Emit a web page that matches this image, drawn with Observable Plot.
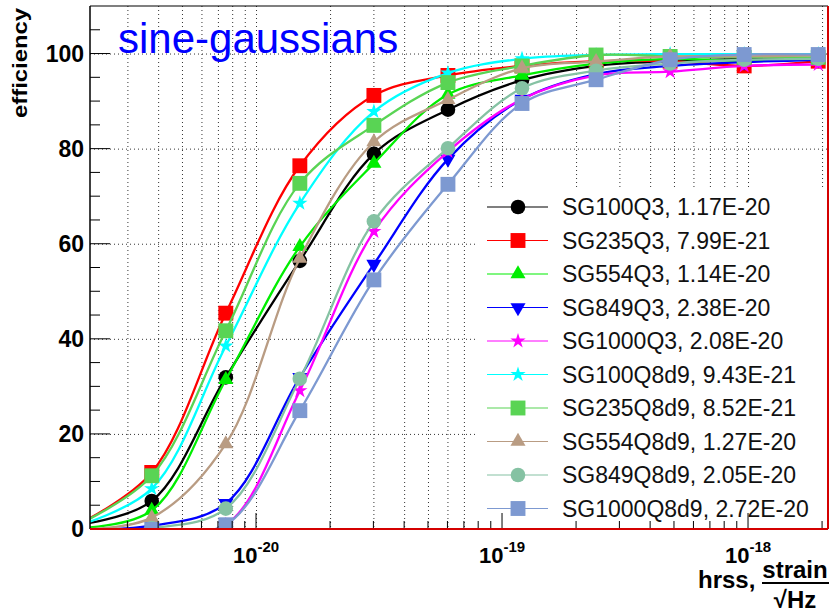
<!DOCTYPE html>
<html><head><meta charset="utf-8">
<script src="https://cdn.jsdelivr.net/npm/d3@7"></script>
<script src="https://cdn.jsdelivr.net/npm/@observablehq/plot@0.6"></script>
<style>
body{margin:0;background:#fff;}
svg{display:block;}
</style>
</head><body><div id="chart"></div>
<script>
// ---- data ----
const hrss = [1.875e-21, 3.75e-21, 7.5e-21, 1.5e-20, 3e-20, 6e-20, 1.2e-19, 2.4e-19, 4.8e-19, 9.6e-19, 1.92e-18];
const seriesNames = ["SG100Q3", "SG235Q3", "SG554Q3", "SG849Q3", "SG1000Q3",
  "SG100Q8d9", "SG235Q8d9", "SG554Q8d9", "SG849Q8d9", "SG1000Q8d9"];
const hrss50 = ["1.17E-20", "7.99E-21", "1.14E-20", "2.38E-20", "2.08E-20",
  "9.43E-21", "8.52E-21", "1.27E-20", "2.05E-20", "2.72E-20"];
const sg100q3    = [1.0, 6.0, 32.0, 56.5, 79.0, 88.3, 94.5, 97.5, 98.5, 99.0, 99.0];
const sg235q3    = [1.0, 12.0, 45.5, 76.5, 91.3, 95.5, 97.5, 98.5, 98.5, 97.5, 98.5];
const sg554q3    = [0.3, 4.0, 31.5, 59.5, 77.0, 91.5, 95.5, 98.0, 99.0, 98.5, 99.0];
const sg849q3    = [0.0, 0.8, 5.5, 32.0, 55.8, 77.9, 90.5, 95.8, 97.5, 98.3, 98.8];
const sg1000q3   = [0.0, 0.0, 1.0, 29.2, 62.7, 79.5, 90.5, 95.5, 96.3, 97.5, 97.8];
const sg100q8d9  = [0.8, 8.6, 38.6, 68.6, 87.9, 96.0, 99.0, 99.8, 100.0, 100.0, 100.0];
const sg235q8d9  = [1.0, 11.3, 41.8, 72.8, 85.0, 94.0, 97.5, 99.8, 99.5, 99.3, 99.3];
const sg554q8d9  = [0.0, 2.5, 18.0, 57.0, 81.5, 90.4, 97.0, 98.4, 99.5, 99.5, 99.7];
const sg849q8d9  = [0.0, 0.3, 4.4, 31.7, 64.8, 80.2, 92.8, 96.5, 98.0, 98.8, 99.0];
const sg1000q8d9 = [0.0, 0.0, 1.0, 25.0, 52.5, 72.6, 89.6, 94.6, 98.8, 99.9, 99.9];
const seriesValues = [sg100q3, sg235q3, sg554q3, sg849q3, sg1000q3,
  sg100q8d9, sg235q8d9, sg554q8d9, sg849q8d9, sg1000q8d9];
const colors = ["#000000", "#ff0000", "#00ee00", "#0000ff", "#ff00ff",
  "#00ffff", "#59d454", "#b99c83", "#85c2a3", "#7d99d1"];

const yTicks = [0, 20, 40, 60, 80, 100];
const yTickLabels = ["0", "20", "40", "60", "80", "100"];
const xDecades = [1e-20, 1e-19, 1e-18];
const xDecadeExponents = ["-20", "-19", "-18"];
const xDomain = [2.114e-21, 2.114e-18];
const yDomain = [0, 110];

const FONT = "'Liberation Sans', Arial, Helvetica, sans-serif";

// ---- symbols ----
const triangleDown = {
  draw(ctx, size) {
    const y = Math.sqrt(size / (Math.sqrt(3) * 3));
    ctx.moveTo(0, 2 * y);
    ctx.lineTo(-Math.sqrt(3) * y, -y);
    ctx.lineTo(Math.sqrt(3) * y, -y);
    ctx.closePath();
  }
};
const symbols = [d3.symbolCircle, d3.symbolSquare, d3.symbolTriangle, triangleDown, d3.symbolStar,
  d3.symbolStar, d3.symbolSquare, d3.symbolTriangle, d3.symbolCircle, d3.symbolSquare];
const symbolR = [7.3, 8.4, 5.6, 5.6, 4.8, 4.8, 8.4, 5.6, 7.3, 8.4];

// ---- grid values ----
const minorMult = [2, 3, 4, 5, 6, 7, 8, 9];
const xGrid = [];
for (const dec of [1e-21, 1e-20, 1e-19, 1e-18]) {
  for (const m of [1, ...minorMult]) {
    const v = m * dec;
    if (v > xDomain[0] && v < xDomain[1]) xGrid.push(v);
  }
}
const xMinor = xGrid.filter(v => !xDecades.includes(v));
const yMinor = d3.range(5, 110, 5).filter(v => !yTicks.includes(v));

// ---- marks ----
const marks = [
  Plot.ruleX(xGrid, {x: d => d, stroke: "#333", strokeWidth: 1, strokeDasharray: "1,3"}),
  Plot.ruleY(yTicks.filter(v => v > 0), {y: d => d, stroke: "#333", strokeWidth: 1, strokeDasharray: "1,3"})
];
seriesValues.forEach((vals, i) => {
  const rows = vals.map((v, j) => ({name: seriesNames[i], x: hrss[j], y: v}));
  marks.push(Plot.line(rows, {x: "x", y: "y", stroke: colors[i], strokeWidth: 2.3, curve: "catmull-rom", clip: true}));
  marks.push(Plot.dot(rows, {x: "x", y: "y", fill: colors[i], stroke: "none", symbol: symbols[i], r: symbolR[i], clip: true}));
});

const plot = Plot.plot({
  width: 831, height: 615,
  marginLeft: 90, marginRight: 3, marginTop: 6, marginBottom: 86,
  x: {type: "log", domain: xDomain, axis: null},
  y: {domain: yDomain, axis: null},
  style: {background: "white", overflow: "visible", fontFamily: FONT},
  marks
});
document.getElementById("chart").append(plot);

// ---- decorations using the plot's scales ----
const svg = d3.select(plot);
const sx = plot.scale("x"), sy = plot.scale("y");
const X = v => sx.apply(v), Y = v => sy.apply(v);
const x0 = X(xDomain[0]), x1 = X(xDomain[1]), yb = Y(yDomain[0]), yt = Y(yDomain[1]);

const txt = (sel) => sel.append("text").attr("font-family", FONT).attr("text-anchor", "start").attr("fill", "#000");

// legend box
const lg = svg.append("g");
lg.append("rect").attr("x", 476).attr("y", 190).attr("width", x1 - 476 - 1).attr("height", yb - 190 - 2).attr("fill", "white");
seriesNames.forEach((n, i) => {
  const cy = 207 + i * 33.5;
  lg.append("line").attr("x1", 487).attr("x2", 548).attr("y1", cy).attr("y2", cy)
    .attr("stroke", colors[i]).attr("stroke-width", 1.2);
  lg.append("path").attr("d", d3.symbol(symbols[i], Math.PI * symbolR[i] * symbolR[i])())
    .attr("transform", `translate(518,${cy})`).attr("fill", colors[i]);
  txt(lg).attr("x", 562).attr("y", cy + 8).attr("font-size", 23).attr("fill", "#111")
    .text(`${n}, ${hrss50[i]}`);
});

// axes ticks
const ax = svg.append("g").attr("stroke", "#000").attr("stroke-width", 1);
yTicks.forEach(v => ax.append("line").attr("x1", x0).attr("x2", x0 + 20).attr("y1", Y(v)).attr("y2", Y(v)));
yMinor.forEach(v => ax.append("line").attr("x1", x0).attr("x2", x0 + 10).attr("y1", Y(v)).attr("y2", Y(v)));
xDecades.forEach(v => ax.append("line").attr("x1", X(v)).attr("x2", X(v)).attr("y1", yb).attr("y2", yb - 16));
xMinor.forEach(v => ax.append("line").attr("x1", X(v)).attr("x2", X(v)).attr("y1", yb).attr("y2", yb - 8));

// frame
svg.append("line").attr("x1", x0).attr("x2", x1).attr("y1", yt).attr("y2", yt).attr("stroke", "#000").attr("stroke-width", 1.2);
svg.append("line").attr("x1", x0).attr("x2", x0).attr("y1", yt).attr("y2", yb).attr("stroke", "#000").attr("stroke-width", 1.5);
svg.append("line").attr("x1", x1).attr("x2", x1).attr("y1", yt).attr("y2", yb).attr("stroke", "#d40000").attr("stroke-width", 2);
svg.append("line").attr("x1", x0).attr("x2", x1).attr("y1", yb).attr("y2", yb).attr("stroke", "#d40000").attr("stroke-width", 2);

// tick labels
yTicks.forEach((v, i) => txt(svg).attr("x", x0 - 6).attr("y", Y(v) + 8)
  .attr("text-anchor", "end").attr("font-size", 23).attr("font-weight", "bold").text(yTickLabels[i]));
xDecades.forEach((v, i) => {
  const t = txt(svg).attr("x", X(v)).attr("y", yb + 34).attr("text-anchor", "middle")
    .attr("font-size", 22).attr("font-weight", "bold");
  t.append("tspan").text("10");
  t.append("tspan").attr("dy", -11).attr("font-size", 15).text(xDecadeExponents[i]);
});

// axis titles
txt(svg).attr("transform", "translate(27,8) rotate(-90)").attr("text-anchor", "end")
  .attr("font-size", 21).attr("font-weight", "bold").attr("textLength", 110).attr("lengthAdjust", "spacingAndGlyphs")
  .text("efficiency");
txt(svg).attr("x", 698).attr("y", 588).attr("font-size", 24).attr("font-weight", "bold").text("hrss,");
txt(svg).attr("x", 795).attr("y", 578).attr("text-anchor", "middle").attr("font-size", 24).attr("font-weight", "bold").text("strain");
svg.append("line").attr("x1", 762).attr("x2", 829).attr("y1", 583).attr("y2", 583).attr("stroke", "#000").attr("stroke-width", 2);
txt(svg).attr("x", 795).attr("y", 608).attr("text-anchor", "middle").attr("font-size", 24).attr("font-weight", "bold").text("√Hz");

// title
txt(svg).attr("x", 118).attr("y", 53).attr("font-size", 42).attr("fill", "#0000ff").text("sine-gaussians");
</script>
</body></html>
